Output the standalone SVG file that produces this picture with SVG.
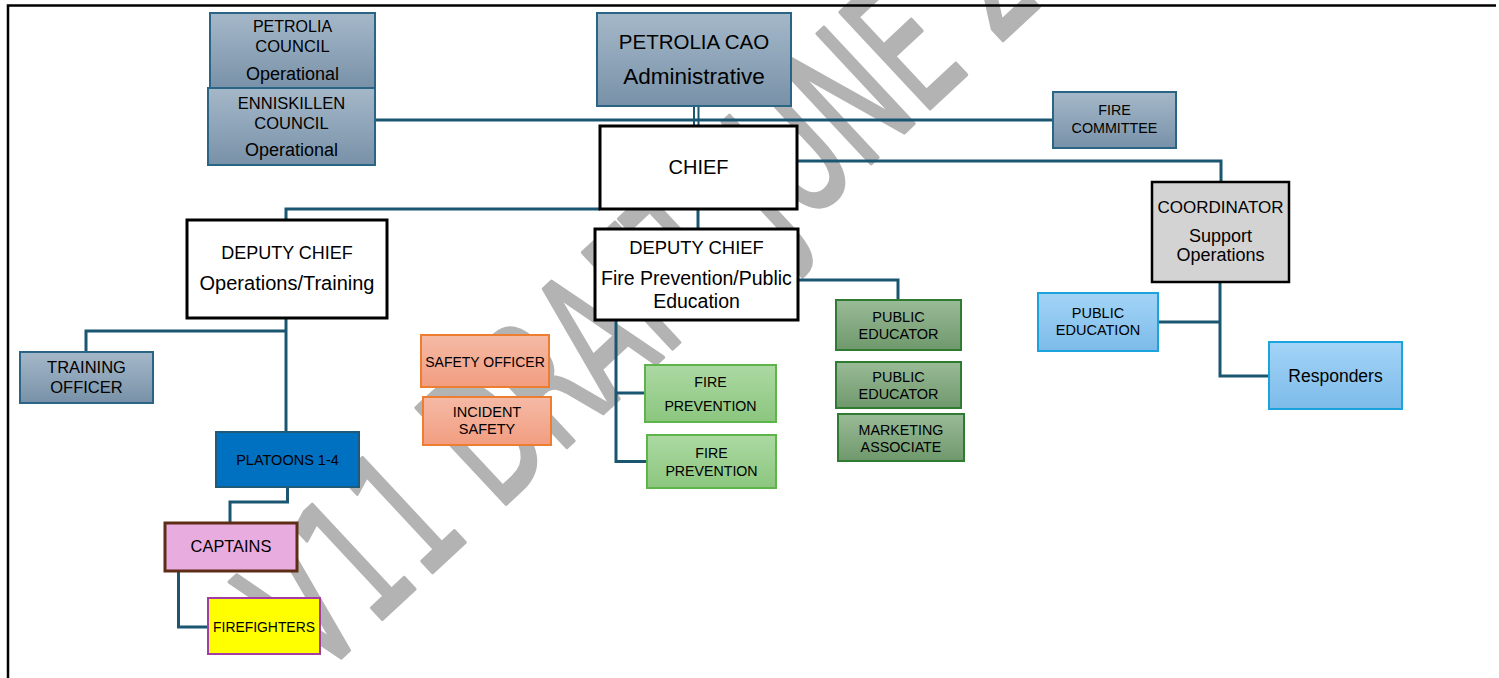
<svg xmlns="http://www.w3.org/2000/svg" width="1499" height="678" viewBox="0 0 1499 678">
<defs>
<linearGradient id="gSlate" x1="0" y1="0" x2="0" y2="1"><stop offset="0" stop-color="#a5b8c9"/><stop offset="1" stop-color="#7891a8"/></linearGradient>
<linearGradient id="gGreen" x1="0" y1="0" x2="0" y2="1"><stop offset="0" stop-color="#9abb97"/><stop offset="1" stop-color="#6f986c"/></linearGradient>
<linearGradient id="gLight" x1="0" y1="0" x2="0" y2="1"><stop offset="0" stop-color="#acd9a3"/><stop offset="1" stop-color="#8bc67e"/></linearGradient>
<linearGradient id="gSalmon" x1="0" y1="0" x2="0" y2="1"><stop offset="0" stop-color="#f5baa6"/><stop offset="1" stop-color="#f29d80"/></linearGradient>
<linearGradient id="gBlue" x1="0" y1="0" x2="0" y2="1"><stop offset="0" stop-color="#a4d4f7"/><stop offset="1" stop-color="#7cbbe9"/></linearGradient>
</defs>
<style>
.t{font-family:"Liberation Sans",Arial,sans-serif;fill:#000;text-anchor:middle}
.c{fill:none;stroke:#1b5670;stroke-width:3}
.slate{fill:url(#gSlate);stroke:#2b6585;stroke-width:2}
.white{fill:#fff;stroke:#000;stroke-width:3}
.green{fill:url(#gGreen);stroke:#2e7b31;stroke-width:2}
.light{fill:url(#gLight);stroke:#5db44b;stroke-width:2}
.salmon{fill:url(#gSalmon);stroke:#ed7d31;stroke-width:2}
.blue{fill:url(#gBlue);stroke:#1ba3dd;stroke-width:2}
.wm{font-family:"DejaVu Sans",sans-serif;fill:#b3b3b3;stroke:#b3b3b3;stroke-width:4;stroke-linejoin:round}
</style>
<rect x="0" y="0" width="1499" height="678" fill="#fff"/>
<text class="wm" font-size="180" transform="translate(318,679) rotate(-43) scale(0.6,1)">V11 DRAFT JUNE 2</text>
<path d="M8,678 V5.5 H1496" fill="none" stroke="#000" stroke-width="2.5"/>
<g id="connectors">
<path class="c" style="stroke-width:2" d="M694,106 V126 M698.5,106 V126"/>
<path class="c" d="M375,120 H1053"/>
<path class="c" d="M797,161 H1221 V182"/>
<path class="c" d="M698,209 V229"/>
<path class="c" d="M286,220 V209 H600"/>
<path class="c" d="M286,318 V432"/>
<path class="c" d="M286,331 H86 V352"/>
<path class="c" d="M287.5,487 V502 H230 V523"/>
<path class="c" d="M178.5,571 V627 H208"/>
<path class="c" d="M616,320 V461.5 H647 M616,393 H645"/>
<path class="c" d="M798,280 H898 V300"/>
<path class="c" d="M1220,282 V376 H1269 M1220,322 H1158"/>
</g>
<g id="petrolia-council"><rect class="slate" x="210" y="13" width="165" height="76"/>
<text class="t" x="292.5" y="32" font-size="16">PETROLIA</text><text class="t" x="292.5" y="52" font-size="16.5">COUNCIL</text><text class="t" x="292.5" y="80" font-size="18">Operational</text></g>
<g id="enniskillen-council"><rect class="slate" x="208" y="88" width="167" height="77"/>
<text class="t" x="291.5" y="109" font-size="16.5">ENNISKILLEN</text><text class="t" x="291.5" y="129" font-size="16.5">COUNCIL</text><text class="t" x="291.5" y="156" font-size="18">Operational</text></g>
<g id="petrolia-cao"><rect class="slate" x="597" y="13" width="194" height="93"/>
<text class="t" x="694" y="49" font-size="20.5">PETROLIA CAO</text><text class="t" x="694" y="84" font-size="22.5">Administrative</text></g>
<g id="fire-committee"><rect class="slate" x="1053" y="92" width="123" height="56"/>
<text class="t" x="1114.5" y="115" font-size="14.3">FIRE</text><text class="t" x="1114.5" y="133" font-size="14.3">COMMITTEE</text></g>
<g id="chief"><rect class="white" x="600" y="126" width="197" height="83"/>
<text class="t" x="698.5" y="174" font-size="20">CHIEF</text></g>
<g id="coordinator"><rect x="1152" y="182" width="137" height="100" fill="#d3d3d3" stroke="#000" stroke-width="2.5"/>
<text class="t" x="1220.5" y="213" font-size="17">COORDINATOR</text><text class="t" x="1220.5" y="242" font-size="18">Support</text><text class="t" x="1220.5" y="261" font-size="18">Operations</text></g>
<g id="deputy-ops"><rect class="white" x="187" y="220" width="200" height="98"/>
<text class="t" x="287" y="259" font-size="18">DEPUTY CHIEF</text><text class="t" x="287" y="290" font-size="20">Operations/Training</text></g>
<g id="deputy-fp"><rect class="white" x="595" y="229" width="203" height="91"/>
<text class="t" x="696.5" y="254" font-size="18.4">DEPUTY CHIEF</text><text class="t" x="696.5" y="285" font-size="19.5">Fire Prevention/Public</text><text class="t" x="696.5" y="308" font-size="19.5">Education</text></g>
<g id="public-educator-1"><rect class="green" x="836" y="300" width="125" height="50"/>
<text class="t" x="898.5" y="321.5" font-size="14.5">PUBLIC</text><text class="t" x="898.5" y="338.5" font-size="14.5">EDUCATOR</text></g>
<g id="public-educator-2"><rect class="green" x="836" y="362" width="125" height="46"/>
<text class="t" x="898.5" y="381.5" font-size="14.5">PUBLIC</text><text class="t" x="898.5" y="399" font-size="14.5">EDUCATOR</text></g>
<g id="marketing-associate"><rect class="green" x="838" y="414" width="126" height="47"/>
<text class="t" x="901" y="435" font-size="14.3">MARKETING</text><text class="t" x="901" y="452" font-size="14.3">ASSOCIATE</text></g>
<g id="public-education"><rect class="blue" x="1038" y="293" width="120" height="58"/>
<text class="t" x="1098" y="318" font-size="14.5">PUBLIC</text><text class="t" x="1098" y="335" font-size="14.5">EDUCATION</text></g>
<g id="responders"><rect class="blue" x="1269" y="342" width="133" height="67"/>
<text class="t" x="1335.5" y="381.5" font-size="17.5">Responders</text></g>
<g id="training-officer"><rect class="slate" x="20" y="352" width="133" height="51"/>
<text class="t" x="86.5" y="373" font-size="16.5">TRAINING</text><text class="t" x="86.5" y="393" font-size="16.5">OFFICER</text></g>
<g id="safety-officer"><rect class="salmon" x="421" y="335" width="128" height="52"/>
<text class="t" x="485" y="366.5" font-size="14">SAFETY OFFICER</text></g>
<g id="incident-safety"><rect class="salmon" x="423" y="397" width="128" height="48"/>
<text class="t" x="487" y="417" font-size="14.5">INCIDENT</text><text class="t" x="487" y="434" font-size="14.5">SAFETY</text></g>
<g id="fire-prevention-1"><rect class="light" x="645" y="365" width="131" height="57"/>
<text class="t" x="710.5" y="386.5" font-size="14.2">FIRE</text><text class="t" x="710.5" y="410.5" font-size="14.2">PREVENTION</text></g>
<g id="fire-prevention-2"><rect class="light" x="647" y="435" width="129" height="53"/>
<text class="t" x="711.5" y="458" font-size="14.2">FIRE</text><text class="t" x="711.5" y="475.5" font-size="14.2">PREVENTION</text></g>
<g id="platoons"><rect x="216" y="432" width="143" height="55" fill="#0070c0" stroke="#1f5a7a" stroke-width="2"/>
<text class="t" x="287.5" y="465" font-size="14.5">PLATOONS 1-4</text></g>
<g id="captains"><rect x="165" y="523" width="132" height="48" fill="#e8acdf" stroke="#5e2c17" stroke-width="3"/>
<text class="t" x="231" y="552" font-size="16.4">CAPTAINS</text></g>
<g id="firefighters"><rect x="208" y="598" width="112" height="56" fill="#ffff00" stroke="#a23da3" stroke-width="2"/>
<text class="t" x="264" y="631.5" font-size="13.9">FIREFIGHTERS</text></g>
</svg>
